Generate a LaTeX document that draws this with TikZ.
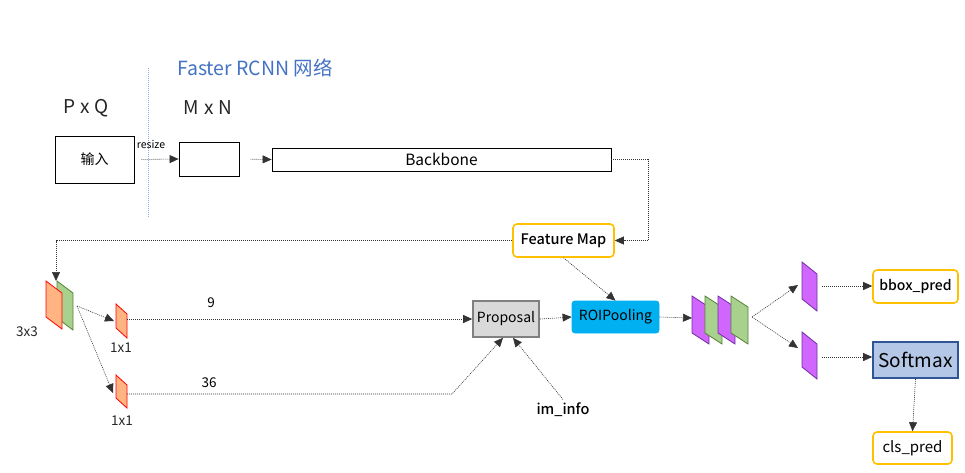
\documentclass[tikz,border=0pt]{standalone}
\usepackage{fontspec}
\setmainfont{Noto Sans CJK SC}[BoldFont={Noto Sans CJK SC Medium}]
\newfontfamily\cjk{Noto Sans CJK SC}
\usetikzlibrary{arrows.meta}

\definecolor{titleblue}{HTML}{4472C4}
\definecolor{lineblue}{HTML}{8FAADC}
\definecolor{fmorange}{HTML}{FFC000}
\definecolor{kernfill}{HTML}{FFB482}
\definecolor{kerngreen}{HTML}{A9D18E}
\definecolor{kerngreendark}{HTML}{548235}
\definecolor{roipurple}{HTML}{D166FF}
\definecolor{roipurpledark}{HTML}{7030A0}
\definecolor{roiblue}{HTML}{00B0F0}
\definecolor{softfill}{HTML}{B4C7E7}
\definecolor{softdraw}{HTML}{2F5597}

% plate: x, y (top left), width, height, skew, fill, draw
\newcommand{\fmplate}[7]{%
  \draw [fill=#6, draw=#7, line width=0.8pt] (#1,#2) -- ++(#3,#5) -- (#1+#3,#2+#4) -- (#1,#2+#4-#5) -- cycle ;}

\tikzset{
  flow/.style={draw=black!80, line width=0.6pt, dash pattern=on 1pt off 1pt, -{Triangle[length=9pt,width=8pt]}},
  box/.style={draw, line width=0.8pt, inner sep=0pt},
  outbox/.style={draw=fmorange, line width=1.6pt, rounded corners=4pt, inner sep=0pt, fill=white},
}

\begin{document}
\begin{tikzpicture}[x=1pt,y=1pt,yscale=-1]
\useasboundingbox (0,0) rectangle (965,472);

%Dotted divider
\draw [lineblue, line width=0.9pt, dash pattern=on 1pt off 1pt] (148,68) -- (148,217) ;

% Text Node
\node (title) at (255,68) {\cjk\fontsize{19.5}{22}\selectfont\color{titleblue} Faster RCNN 网络};
% Text Node
\node (pq) at (86,108) {\fontsize{19}{22}\selectfont\color{black!85} P\hspace{5pt}x\hspace{5pt}Q};
% Text Node
\node (mn) at (208,108) {\fontsize{19}{22}\selectfont\color{black!85} M\hspace{5pt}x\hspace{5pt}N};

% Boxes
\node [box, minimum width=79pt, minimum height=47pt] (img) at (94.5,159.5) {\cjk\fontsize{14}{16}\selectfont 输入};
\node [box, minimum width=60pt, minimum height=34pt] (img2) at (209,159) {};
\node [box, minimum width=339pt, minimum height=23pt] (bb) at (441.5,159.5) {\fontsize{15.5}{17}\selectfont Backbone};
\node [outbox, minimum width=101pt, minimum height=33pt] (fm) at (563.5,240.5) {\fontsize{14.5}{17}\selectfont\bfseries Feature Map};
\node [box, draw=black!50, line width=1.6pt, fill=black!15, minimum width=66pt, minimum height=36pt] (prop) at (506,319) {\fontsize{14}{16}\selectfont Proposal};
\node [box, draw=roiblue, fill=roiblue, rounded corners=3pt, minimum width=87pt, minimum height=32pt] (roi) at (615.5,317) {\fontsize{14}{16}\selectfont\raisebox{-2pt}{ROIPooling}};
\node (info) at (563,410) {\fontsize{14.5}{17}\selectfont\bfseries im\_info};
\node [outbox, minimum width=85pt, minimum height=33pt] (bbox) at (915.5,286.5) {\fontsize{14}{16}\selectfont\bfseries bbox\_pred};
\node [box, draw=softdraw, line width=1.6pt, fill=softfill, minimum width=85pt, minimum height=36pt] (soft) at (915.5,360) {\fontsize{19}{21}\selectfont Softmax};
\node [outbox, minimum width=79pt, minimum height=32pt] (cls) at (912.5,448) {\fontsize{15}{17}\selectfont cls\_pred};

% 3x3 conv
\fmplate{57}{281}{16}{49}{12}{kerngreen}{kerngreendark}
\fmplate{46}{281}{16}{48}{12}{kernfill}{red}
% 1x1 convs
\fmplate{116}{304}{11}{34}{10}{kernfill}{red}
\fmplate{116}{375}{11}{33}{10}{kernfill}{red}
% ROI stack
\fmplate{692}{296}{17}{48}{11}{roipurple}{roipurpledark}
\fmplate{705}{296}{17}{48}{11}{kerngreen}{kerngreendark}
\fmplate{718}{296}{17}{48}{11}{roipurple}{roipurpledark}
\fmplate{731}{296}{17}{48}{11}{kerngreen}{kerngreendark}
% fc heads
\fmplate{802}{262}{15}{49}{12}{roipurple}{roipurpledark}
\fmplate{802}{332}{15}{47}{12}{roipurple}{roipurpledark}

\coordinate (k3top) at (56,281);
\coordinate (k3out) at (77,306);
\coordinate (k1a) at (114,321);
\coordinate (k1aout) at (127,319);
\coordinate (k1b) at (113,393);
\coordinate (k1bout) at (127,394);
\coordinate (stackin) at (692,318);
\coordinate (stackout) at (752,317);
\coordinate (fca) at (798,285);
\coordinate (fcaout) at (822,286);
\coordinate (fcb) at (798,348);
\coordinate (fcbout) at (822,357);

% Text Node
\node (lk3) at (27,332) {\fontsize{13.5}{16}\selectfont\color{black!85} 3x3};
\node (lk1a) at (121,348) {\fontsize{13.5}{16}\selectfont\color{black!85} 1x1};
\node (lk1b) at (122,421) {\fontsize{13.5}{16}\selectfont\color{black!85} 1x1};
\node (lnine) at (211,303) {\fontsize{13.5}{16}\selectfont 9};
\node (lsix) at (209,383) {\fontsize{13.5}{16}\selectfont 36};
\node (lrs) at (151,144) {\fontsize{10.5}{12}\selectfont resize};

% Connectors
\draw [flow, shorten <=7pt] (img.east) -- (img2.west) ;
\draw [flow, shorten <=11pt] (img2.east) -- (bb.west) ;
\draw [flow] (bb.east) -- ++(37,0) |- (fm.east) ;
\draw [flow] (fm.west) -| (k3top) ;
\draw [flow] (k3out) -- (k1a) ;
\draw [flow] (k3out) -- (k1b) ;
\draw [flow] (k1aout) -- (k1aout -| prop.west) ;
\draw [flow] (k1bout) -- ++(325,0) -- ([xshift=-3pt]prop.south) ;
\draw [flow] (info.north) -- ([xshift=7pt]prop.south) ;
\draw [flow] (prop.east) -- (roi.west) ;
\draw [flow] (fm.south) -- (roi.north) ;
\draw [flow] (roi.east) -- (stackin) ;
\draw [flow] (stackout) -- (fca) ;
\draw [flow] (stackout) -- (fcb) ;
\draw [flow] (fcaout) -- (fcaout -| bbox.west) ;
\draw [flow] (fcbout) -- (fcbout -| soft.west) ;
\draw [flow] (soft.south) -- (cls.north) ;

\end{tikzpicture}
\end{document}
